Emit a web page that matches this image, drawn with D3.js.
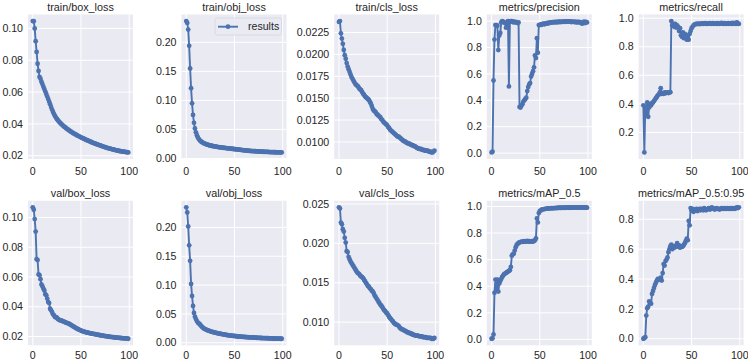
<!DOCTYPE html>
<html>
<head>
<meta charset="utf-8">
<script src="https://cdn.jsdelivr.net/npm/d3@7"></script>
<style>
  body { margin: 0; background: #fff; }
  svg { display: block; }
</style>
</head>
<body>
<div id="chart"></div>
<script>
// epochs 0..99
const epochs = d3.range(100);

const titles = ["train/box_loss", "train/obj_loss", "train/cls_loss", "metrics/precision", "metrics/recall",
    "val/box_loss", "val/obj_loss", "val/cls_loss", "metrics/mAP_0.5", "metrics/mAP_0.5:0.95"];

const trainBoxLoss = [
    0.1046,0.1045,0.1000,0.0920,0.0852,0.0778,0.0733,0.0695,0.0684,0.0665,
    0.0650,0.0634,0.0619,0.0603,0.0588,0.0572,0.0556,0.0540,0.0524,0.0506,
    0.0490,0.0475,0.0462,0.0450,0.0440,0.0431,0.0423,0.0416,0.0409,0.0403,
    0.0397,0.0391,0.0386,0.0381,0.0376,0.0371,0.0367,0.0362,0.0358,0.0354,
    0.0350,0.0346,0.0342,0.0339,0.0335,0.0332,0.0328,0.0325,0.0322,0.0319,
    0.0316,0.0313,0.0310,0.0307,0.0304,0.0301,0.0298,0.0296,0.0293,0.0291,
    0.0288,0.0285,0.0283,0.0280,0.0278,0.0276,0.0273,0.0271,0.0269,0.0267,
    0.0265,0.0262,0.0260,0.0258,0.0256,0.0254,0.0252,0.0250,0.0248,0.0247,
    0.0245,0.0243,0.0242,0.0240,0.0238,0.0237,0.0235,0.0234,0.0233,0.0231,
    0.0230,0.0229,0.0228,0.0227,0.0226,0.0225,0.0224,0.0223,0.0222,0.0221];

const trainObjLoss = [
    0.2367,0.2335,0.2220,0.1940,0.1550,0.1210,0.0950,0.0750,0.0614,0.0517,
    0.0450,0.0400,0.0362,0.0334,0.0313,0.0297,0.0284,0.0273,0.0264,0.0256,
    0.0249,0.0243,0.0237,0.0232,0.0227,0.0223,0.0219,0.0215,0.0212,0.0209,
    0.0206,0.0203,0.0200,0.0197,0.0195,0.0192,0.0190,0.0188,0.0185,0.0183,
    0.0181,0.0179,0.0177,0.0175,0.0173,0.0171,0.0169,0.0167,0.0165,0.0163,
    0.0161,0.0159,0.0157,0.0155,0.0153,0.0151,0.0149,0.0147,0.0145,0.0143,
    0.0141,0.0139,0.0137,0.0135,0.0134,0.0132,0.0131,0.0129,0.0128,0.0127,
    0.0126,0.0125,0.0124,0.0123,0.0122,0.0121,0.0120,0.0119,0.0118,0.0117,
    0.0116,0.0115,0.0114,0.0114,0.0113,0.0112,0.0111,0.0111,0.0110,0.0109,
    0.0109,0.0108,0.0107,0.0107,0.0106,0.0106,0.0105,0.0105,0.0104,0.0104];

const trainClsLoss = [
    0.0237,0.0238,0.0224,0.0218,0.0212,0.0205,0.0199,0.0195,0.0190,0.0186,
    0.0183,0.0180,0.0177,0.0174,0.0172,0.0170,0.0168,0.0166,0.0165,0.0164,
    0.0163,0.0161,0.0160,0.0159,0.0157,0.0155,0.0154,0.0152,0.0151,0.0150,
    0.0149,0.0148,0.0146,0.0144,0.0141,0.0138,0.0136,0.0135,0.0134,0.0132,
    0.0131,0.0130,0.0129,0.0128,0.0126,0.0125,0.0123,0.0122,0.0121,0.0120,
    0.0119,0.0117,0.0116,0.0114,0.0113,0.0112,0.0111,0.0110,0.0109,0.0108,
    0.0107,0.0106,0.0106,0.0105,0.0104,0.0103,0.0102,0.0101,0.0101,0.0100,
    0.0099,0.0099,0.0098,0.0098,0.0097,0.0097,0.0096,0.0096,0.0095,0.0095,
    0.0094,0.0093,0.0093,0.0092,0.0092,0.0092,0.0091,0.0091,0.0091,0.0090,
    0.0090,0.0090,0.0090,0.0089,0.0089,0.0089,0.0088,0.0088,0.0089,0.0090];

const precision = [
    0.005,0.010,0.550,0.860,0.970,0.970,0.965,0.780,0.890,0.910,
    0.990,1.000,0.995,0.990,0.985,0.950,0.990,1.000,0.505,0.995,
    1.000,1.000,0.995,0.990,0.995,0.990,0.992,0.985,0.990,0.350,
    0.345,0.360,0.370,0.390,0.400,0.410,0.420,0.470,0.500,0.520,
    0.530,0.580,0.600,0.620,0.650,0.740,0.720,0.870,0.760,0.970,
    0.970,0.975,0.972,0.978,0.980,0.975,0.982,0.985,0.980,0.988,
    0.985,0.990,0.988,0.992,0.990,0.993,0.991,0.994,0.990,0.995,
    0.993,0.995,0.992,0.996,0.994,0.995,0.997,0.995,0.996,0.998,
    0.996,0.997,0.995,0.993,0.996,0.994,0.992,0.995,0.990,0.993,
    0.991,0.994,0.990,0.985,0.980,0.992,0.995,0.985,0.993,0.990];

const recall = [
    0.390,0.060,0.380,0.320,0.410,0.310,0.375,0.400,0.390,0.405,
    0.410,0.420,0.430,0.440,0.450,0.460,0.465,0.480,0.510,0.470,
    0.475,0.470,0.480,0.475,0.478,0.480,0.476,0.480,0.482,0.980,
    0.950,0.960,0.940,0.960,0.935,0.950,0.940,0.910,0.930,0.880,
    0.870,0.900,0.860,0.890,0.860,0.850,0.880,0.850,0.890,0.910,
    0.930,0.940,0.950,0.955,0.958,0.960,0.960,0.962,0.958,0.962,
    0.960,0.963,0.960,0.962,0.965,0.960,0.963,0.960,0.962,0.965,
    0.960,0.962,0.965,0.960,0.963,0.962,0.960,0.965,0.962,0.960,
    0.963,0.968,0.962,0.960,0.965,0.962,0.960,0.963,0.965,0.960,
    0.962,0.965,0.960,0.968,0.962,0.965,0.960,0.970,0.963,0.960];

const valBoxLoss = [
    0.1068,0.1052,0.0989,0.0905,0.0720,0.0714,0.0617,0.0612,0.0585,0.0550,
    0.0538,0.0522,0.0510,0.0484,0.0477,0.0455,0.0432,0.0425,0.0387,0.0376,
    0.0364,0.0349,0.0342,0.0331,0.0330,0.0326,0.0318,0.0313,0.0310,0.0308,
    0.0306,0.0303,0.0300,0.0298,0.0294,0.0292,0.0290,0.0287,0.0284,0.0280,
    0.0276,0.0272,0.0268,0.0264,0.0260,0.0256,0.0252,0.0249,0.0246,0.0243,
    0.0240,0.0237,0.0235,0.0233,0.0231,0.0229,0.0227,0.0226,0.0224,0.0223,
    0.0221,0.0220,0.0218,0.0217,0.0216,0.0215,0.0213,0.0212,0.0211,0.0210,
    0.0208,0.0207,0.0206,0.0205,0.0204,0.0203,0.0202,0.0201,0.0200,0.0199,
    0.0198,0.0197,0.0196,0.0196,0.0195,0.0194,0.0193,0.0193,0.0192,0.0191,
    0.0191,0.0190,0.0189,0.0189,0.0188,0.0188,0.0187,0.0187,0.0186,0.0185];

const valObjLoss = [
    0.2348,0.2260,0.2017,0.1690,0.1420,0.1020,0.0810,0.0638,0.0516,0.0452,
    0.0410,0.0375,0.0350,0.0335,0.0320,0.0300,0.0280,0.0265,0.0250,0.0240,
    0.0232,0.0224,0.0216,0.0210,0.0204,0.0198,0.0192,0.0187,0.0182,0.0178,
    0.0174,0.0170,0.0166,0.0162,0.0158,0.0155,0.0152,0.0149,0.0146,0.0143,
    0.0140,0.0137,0.0134,0.0131,0.0128,0.0126,0.0124,0.0122,0.0120,0.0118,
    0.0116,0.0114,0.0112,0.0110,0.0108,0.0107,0.0105,0.0104,0.0102,0.0101,
    0.0100,0.0099,0.0097,0.0096,0.0095,0.0094,0.0093,0.0092,0.0091,0.0090,
    0.0089,0.0088,0.0087,0.0086,0.0085,0.0084,0.0083,0.0082,0.0082,0.0081,
    0.0080,0.0079,0.0079,0.0078,0.0077,0.0077,0.0076,0.0075,0.0075,0.0074,
    0.0073,0.0073,0.0072,0.0072,0.0071,0.0071,0.0070,0.0070,0.0069,0.0069];

const valClsLoss = [
    0.02457,0.02444,0.02264,0.02243,0.0218,0.0215,0.0207,0.0201,0.0190,0.0189,
    0.0183,0.0180,0.0177,0.0175,0.0173,0.0171,0.0169,0.0167,0.0165,0.0163,
    0.0162,0.0161,0.0159,0.0158,0.0157,0.0156,0.0154,0.0152,0.0150,0.0148,
    0.0146,0.0145,0.0143,0.0142,0.0140,0.0139,0.0137,0.0134,0.0132,0.0130,
    0.0128,0.0126,0.0124,0.0122,0.0121,0.0119,0.0117,0.0115,0.0114,0.0112,
    0.0111,0.0109,0.0107,0.0105,0.0104,0.0102,0.0101,0.0099,0.0098,0.0097,
    0.0097,0.0096,0.0095,0.0093,0.0092,0.0091,0.0091,0.0090,0.0089,0.0089,
    0.0088,0.0087,0.0087,0.0086,0.0086,0.0085,0.0085,0.0084,0.0084,0.0083,
    0.0083,0.0083,0.0083,0.0082,0.0082,0.0082,0.0082,0.0081,0.0081,0.0081,
    0.0081,0.0080,0.0080,0.0080,0.0080,0.0080,0.0079,0.0079,0.0079,0.0080];

const mAP50 = [
    0.005,0.008,0.037,0.350,0.450,0.370,0.450,0.360,0.420,0.440,
    0.455,0.470,0.480,0.490,0.495,0.500,0.505,0.510,0.515,0.520,
    0.545,0.630,0.640,0.645,0.668,0.693,0.710,0.718,0.725,0.730,
    0.732,0.735,0.733,0.736,0.738,0.735,0.737,0.740,0.736,0.738,
    0.735,0.737,0.739,0.736,0.740,0.745,0.760,0.910,0.880,0.950,
    0.965,0.970,0.975,0.978,0.980,0.980,0.982,0.983,0.984,0.985,
    0.985,0.986,0.987,0.986,0.988,0.987,0.988,0.989,0.988,0.990,
    0.989,0.990,0.989,0.990,0.991,0.990,0.991,0.990,0.991,0.992,
    0.991,0.990,0.992,0.991,0.992,0.991,0.993,0.992,0.991,0.992,
    0.993,0.992,0.991,0.993,0.992,0.993,0.992,0.991,0.992,0.991];

const mAP5095 = [
    0.000,0.005,0.010,0.155,0.205,0.215,0.250,0.240,0.235,0.300,
    0.320,0.340,0.360,0.375,0.390,0.400,0.395,0.400,0.410,0.390,
    0.440,0.500,0.490,0.520,0.530,0.545,0.580,0.600,0.620,0.630,
    0.600,0.620,0.610,0.620,0.615,0.640,0.620,0.625,0.610,0.620,
    0.615,0.620,0.630,0.640,0.655,0.670,0.660,0.790,0.760,0.875,
    0.860,0.870,0.850,0.865,0.860,0.870,0.855,0.865,0.870,0.860,
    0.870,0.865,0.860,0.875,0.870,0.860,0.865,0.870,0.875,0.865,
    0.870,0.880,0.875,0.870,0.865,0.870,0.875,0.870,0.870,0.865,
    0.870,0.875,0.870,0.870,0.875,0.870,0.870,0.875,0.870,0.870,
    0.875,0.870,0.875,0.870,0.875,0.870,0.875,0.880,0.875,0.880];

const series = [trainBoxLoss, trainObjLoss, trainClsLoss, precision, recall,
    valBoxLoss, valObjLoss, valClsLoss, mAP50, mAP5095];

// tick labels as shown on each y axis
const yTickLabels = [
    ["0.02", "0.04", "0.06", "0.08", "0.10"],
    ["0.00", "0.05", "0.10", "0.15", "0.20"],
    ["0.0100", "0.0125", "0.0150", "0.0175", "0.0200", "0.0225"],
    ["0.0", "0.2", "0.4", "0.6", "0.8", "1.0"],
    ["0.2", "0.4", "0.6", "0.8", "1.0"],
    ["0.02", "0.04", "0.06", "0.08", "0.10"],
    ["0.00", "0.05", "0.10", "0.15", "0.20"],
    ["0.010", "0.015", "0.020", "0.025"],
    ["0.0", "0.2", "0.4", "0.6", "0.8", "1.0"],
    ["0.0", "0.2", "0.4", "0.6", "0.8"]
];
const xTickLabels = ["0", "50", "100"];
const legendLabel = "results";

const width = 748, height = 362;
const colLeft = [28, 181.5, 334.2, 486.8, 638.6];
const plotW = 105;
const rowTop = [14.5, 200.8];
const plotH = 144.5;
const xLabelY = [171.7, 355];
const titleY = [7, 193];
const color = "#4C72B0";
const textColor = "#262626";
const font = "'Liberation Sans', Arial, sans-serif";
const markerR = 2.4;

const svg = d3.select("#chart")
    .append("svg")
    .attr("width", width)
    .attr("height", height)
    .style("font-family", font);

series.forEach((values, k) => {
    const row = Math.floor(k / 5), col = k % 5;
    const left = colLeft[col], top = rowTop[row];

    const x = d3.scaleLinear()
        .domain([-4.95, 103.95])
        .range([left, left + plotW]);

    const [lo, hi] = d3.extent(values);
    const pad = (hi - lo) * 0.05;
    const y = d3.scaleLinear()
        .domain([lo - pad, hi + pad])
        .range([top + plotH, top]);

    const g = svg.append("g");

    g.append("rect")
        .attr("x", left)
        .attr("y", top)
        .attr("width", plotW)
        .attr("height", plotH)
        .attr("fill", "#EAEAF2");

    // grid
    g.selectAll(".gy")
        .data(yTickLabels[k])
        .join("line")
        .attr("x1", left).attr("x2", left + plotW)
        .attr("y1", d => y(+d)).attr("y2", d => y(+d))
        .attr("stroke", "#fff").attr("stroke-width", 1);

    g.selectAll(".gx")
        .data(xTickLabels)
        .join("line")
        .attr("x1", d => x(+d)).attr("x2", d => x(+d))
        .attr("y1", top).attr("y2", top + plotH)
        .attr("stroke", "#fff").attr("stroke-width", 1);

    // tick labels
    g.selectAll(".ty")
        .data(yTickLabels[k])
        .join("text")
        .attr("x", left - 5)
        .attr("y", d => y(+d))
        .attr("dy", "0.35em")
        .attr("text-anchor", "end")
        .attr("font-size", "10.6px")
        .attr("fill", textColor)
        .text(d => d);

    g.selectAll(".tx")
        .data(xTickLabels)
        .join("text")
        .attr("x", d => x(+d))
        .attr("y", xLabelY[row])
        .attr("dy", "0.35em")
        .attr("text-anchor", "middle")
        .attr("font-size", "10.6px")
        .attr("fill", textColor)
        .text(d => d);

    g.append("text")
        .attr("x", left + plotW / 2)
        .attr("y", titleY[row])
        .attr("dy", "0.35em")
        .attr("text-anchor", "middle")
        .attr("font-size", "10.8px")
        .attr("fill", textColor)
        .text(titles[k]);

    const line = d3.line()
        .x((d, i) => x(epochs[i]))
        .y(d => y(d));

    g.append("path")
        .datum(values)
        .attr("d", line)
        .attr("fill", "none")
        .attr("stroke", color)
        .attr("stroke-width", 1.9)
        .attr("stroke-linejoin", "round");

    g.selectAll("circle")
        .data(values)
        .join("circle")
        .attr("cx", (d, i) => x(epochs[i]))
        .attr("cy", d => y(d))
        .attr("r", markerR)
        .attr("fill", color);

    // legend only on second panel
    if (k === 1) {
        const lx = left + plotW - 71.5, ly = top + 3.5;
        const lg = g.append("g");
        lg.append("rect")
            .attr("x", lx).attr("y", ly)
            .attr("width", 66.5).attr("height", 17)
            .attr("rx", 2)
            .attr("fill", "#EAEAF2").attr("fill-opacity", 0.85)
            .attr("stroke", "#d6d6de").attr("stroke-width", 0.8);
        lg.append("line")
            .attr("x1", lx + 3).attr("x2", lx + 23)
            .attr("y1", ly + 8.7).attr("y2", ly + 8.7)
            .attr("stroke", color).attr("stroke-width", 1.9);
        lg.append("circle")
            .attr("cx", lx + 13).attr("cy", ly + 8.7)
            .attr("r", markerR).attr("fill", color);
        lg.append("text")
            .attr("x", lx + 33).attr("y", ly + 8.7)
            .attr("dy", "0.35em")
            .attr("font-size", "10.6px")
            .attr("fill", textColor)
            .text(legendLabel);
    }
});
</script>
</body>
</html>
